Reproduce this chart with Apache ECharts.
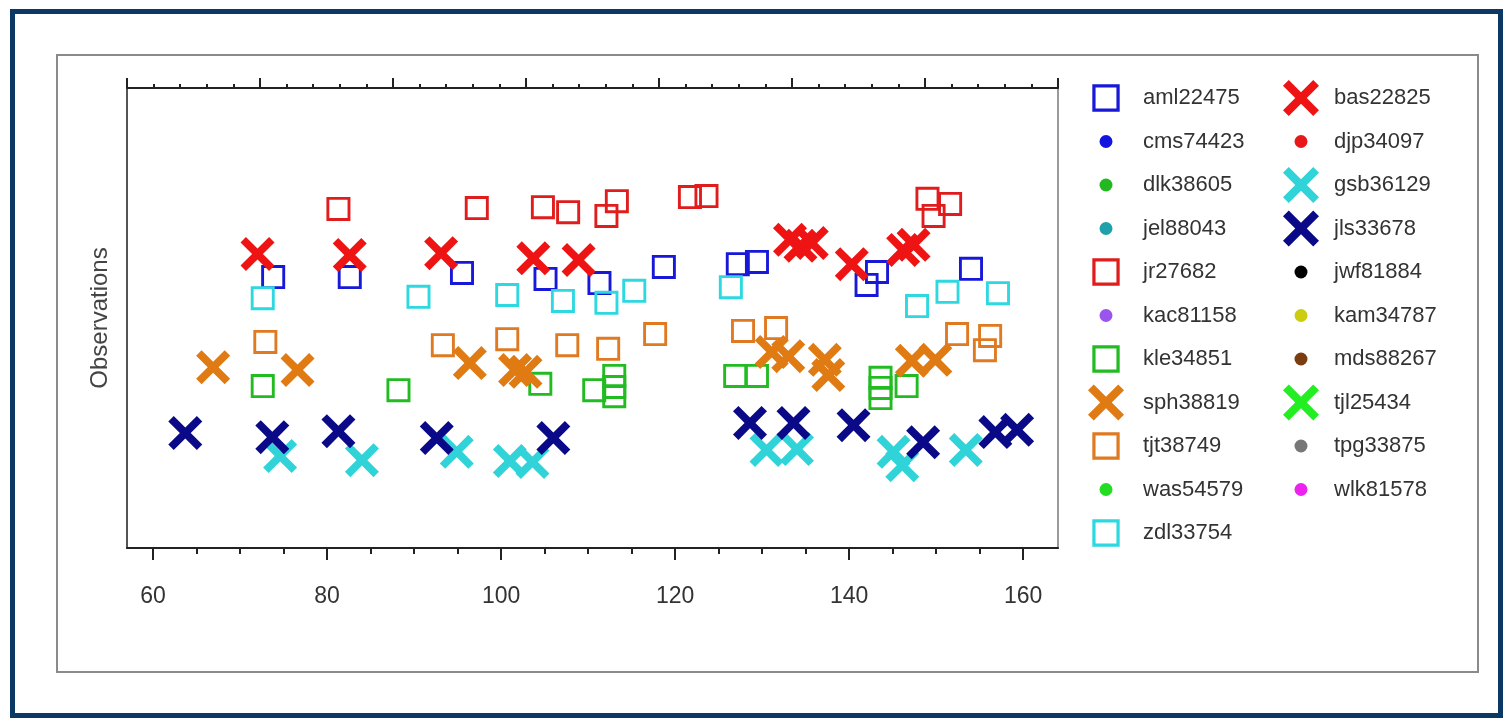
<!DOCTYPE html>
<html>
<head>
<meta charset="utf-8">
<title>Observations</title>
<script src="https://cdn.jsdelivr.net/npm/echarts@6/dist/echarts.min.js"></script>
<style>
  html, body { margin: 0; padding: 0; background: #fff; }
  #chart { width: 1511px; height: 721px; }
</style>
</head>
<body>
<div id="chart"></div>
<script>
// series names, in legend order
var names = ['aml22475', 'bas22825', 'cms74423', 'djp34097', 'dlk38605', 'gsb36129', 'jel88043',
    'jls33678', 'jr27682', 'jwf81884', 'kac81158', 'kam34787', 'kle34851', 'mds88267',
    'sph38819', 'tjl25434', 'tjt38749', 'tpg33875', 'was54579', 'wlk81578', 'zdl33754'];
var kinds = ['square', 'x', 'dot', 'dot', 'dot', 'x', 'dot',
    'x', 'square', 'dot', 'dot', 'dot', 'square', 'dot',
    'x', 'x', 'square', 'dot', 'dot', 'dot', 'square'];
var colors = ['#1818d8', '#ee1414', '#1414e0', '#e81818', '#22b822', '#30d4d8', '#20a0a8',
    '#0a0a88', '#e01c1c', '#000000', '#9955ee', '#cccc11', '#22bb22', '#7a3d10',
    '#e07a12', '#22ee22', '#e07a22', '#777777', '#22dd22', '#ee22ee', '#2ed8e0'];

// x ticks
var xMajor = [60, 80, 100, 120, 140, 160];
var xMinor = [65, 70, 75, 85, 90, 95, 105, 110, 115, 125, 130, 135, 145, 150, 155];

// points [x, observation level]
var aml22475 = [[73.8, 58.9], [82.6, 58.9], [95.5, 59.8], [105.1, 58.5], [111.3, 57.6], [118.7, 61.1],
    [127.2, 61.7], [129.4, 62.2], [142.0, 57.2], [143.2, 60.0], [154.0, 60.7]];
var bas22825 = [[72.0, 63.9], [82.6, 63.7], [93.1, 64.1], [103.7, 63.0], [108.9, 62.6], [133.2, 67.0],
    [134.4, 65.7], [135.7, 66.3], [140.3, 61.7], [146.2, 64.8], [147.4, 65.9]];
var gsb36129 = [[74.6, 20.0], [84.0, 19.1], [94.9, 20.9], [101.0, 18.9], [103.6, 18.7], [130.5, 21.3],
    [134.0, 21.5], [145.1, 20.9], [146.1, 18.0], [153.4, 21.3]];
var jls33678 = [[63.7, 25.0], [73.7, 24.1], [81.3, 25.4], [92.6, 23.9], [106.0, 23.9], [128.6, 27.2],
    [133.6, 27.2], [140.5, 26.7], [148.5, 23.0], [156.8, 25.2], [159.3, 25.7]];
var jr27682 = [[81.3, 73.7], [97.2, 73.9], [104.8, 74.1], [107.7, 73.0], [112.1, 72.2], [113.3, 75.4],
    [121.7, 76.3], [123.6, 76.5], [149.0, 75.9], [149.7, 72.2], [151.6, 74.8]];
var kle34851 = [[72.6, 35.2], [88.2, 34.3], [104.5, 35.7], [110.7, 34.3], [113.0, 37.4], [113.0, 35.0],
    [113.0, 33.0], [126.9, 37.4], [129.4, 37.4], [143.6, 37.0], [143.6, 34.8], [143.6, 32.6], [146.6, 35.2]];
var sph38819 = [[66.9, 39.3], [76.6, 38.7], [96.4, 40.2], [101.6, 38.7], [102.8, 38.3], [131.1, 42.6],
    [133.0, 41.7], [137.2, 40.9], [137.6, 37.6], [147.2, 40.7], [149.9, 40.9]];
var tjt38749 = [[72.9, 44.8], [93.3, 44.1], [100.7, 45.4], [107.6, 44.1], [112.3, 43.3], [117.7, 46.5],
    [127.8, 47.2], [131.6, 47.8], [152.4, 46.5], [156.2, 46.1], [155.6, 43.0]];
var zdl33754 = [[72.6, 54.3], [90.5, 54.6], [100.7, 55.0], [107.1, 53.7], [112.1, 53.3], [115.3, 55.9],
    [126.4, 56.7], [147.8, 52.6], [151.3, 55.7], [157.1, 55.4]];

var seriesData = {
    aml22475: aml22475, bas22825: bas22825, gsb36129: gsb36129, jls33678: jls33678,
    jr27682: jr27682, kle34851: kle34851, sph38819: sph38819, tjt38749: tjt38749, zdl33754: zdl33754
};

// marker shapes
var xPath = 'path://M0,16L16,0L50,34L84,0L100,16L66,50L100,84L84,100L50,66L16,100L0,84L34,50Z';
var squarePath = 'path://M0,0H100V100H0Z M12,12V88H88V12Z';
// legend icons padded inside a 100x100 box
var squareIcon = 'path://M0,0M100,100M12,12H88V88H12Z M21,21V79H79V21Z';
var dotIcon = 'path://M0,0M100,100M32,50A18,18 0 1,1 68,50A18,18 0 1,1 32,50Z';

var font = 'Liberation Sans, Arial, sans-serif';
var chart = echarts.init(document.getElementById('chart'));

var series = names.map(function (n, i) {
    var k = kinds[i];
    return {
        name: n,
        type: 'scatter',
        data: seriesData[n] || [],
        symbol: k === 'x' ? xPath : (k === 'square' ? squarePath : 'circle'),
        symbolSize: k === 'x' ? 34 : (k === 'square' ? 24 : 12),
        itemStyle: { color: colors[i], opacity: 1 },
        emphasis: { disabled: true }
    };
});

function legendCol(parity, left, pad) {
    var items = [];
    names.forEach(function (n, i) {
        if (i % 2 !== parity) return;
        var k = kinds[i];
        items.push({ name: n, icon: k === 'x' ? xPath : (k === 'square' ? squareIcon : dotIcon) });
    });
    return {
        data: items,
        left: left, top: 75,
        orient: 'vertical',
        itemWidth: 36, itemHeight: 36, itemGap: 7.5,
        selectedMode: false,
        textStyle: { fontSize: 22, color: '#333', padding: [0, 0, 0, pad], fontFamily: font }
    };
}

var option = {
    animation: false,
    backgroundColor: '#fff',
    textStyle: { fontFamily: font },
    graphic: [
        { type: 'rect', z: -10, shape: { x: 12.5, y: 11.5, width: 1488, height: 704 },
          style: { fill: 'none', stroke: '#0c3866', lineWidth: 5 } },
        { type: 'rect', z: -10, shape: { x: 57, y: 55, width: 1421, height: 617 },
          style: { fill: 'none', stroke: '#8a8a8a', lineWidth: 2 } }
    ],
    grid: {
        left: 127, top: 88, right: 453, bottom: 173,
        show: true, borderColor: '#9a9a9a', borderWidth: 2, backgroundColor: 'transparent'
    },
    legend: [legendCol(0, 1083, 14), legendCol(1, 1278, 10)],
    xAxis: [
        {
            type: 'value', position: 'bottom', min: 57, max: 164,
            axisLine: { show: true, lineStyle: { color: '#222', width: 2 } },
            axisTick: { show: true, customValues: xMajor, length: 12, lineStyle: { color: '#222', width: 2 } },
            axisLabel: { customValues: xMajor, fontSize: 23, color: '#333', margin: 37, fontFamily: font },
            splitLine: { show: false }
        },
        {
            type: 'value', position: 'bottom', offset: 0, min: 57, max: 164,
            axisLine: { show: false },
            axisTick: { show: true, customValues: xMinor, length: 6, lineStyle: { color: '#222', width: 2 } },
            axisLabel: { show: false },
            splitLine: { show: false }
        },
        {
            type: 'value', position: 'top', min: 0, max: 35, interval: 5,
            axisLine: { show: true, lineStyle: { color: '#222', width: 2 } },
            axisTick: { show: true, length: 10, lineStyle: { color: '#222', width: 2 } },
            minorTick: { show: true, splitNumber: 5, length: 4, lineStyle: { color: '#222', width: 2 } },
            axisLabel: { show: false },
            splitLine: { show: false }
        }
    ],
    yAxis: {
        type: 'value', min: 0, max: 100,
        name: 'Observations', nameLocation: 'middle', nameGap: 15, nameRotate: 90,
        nameTextStyle: { fontSize: 24, color: '#444', fontFamily: font },
        axisLine: { show: true, lineStyle: { color: '#555', width: 2 } },
        axisTick: { show: false },
        axisLabel: { show: false },
        splitLine: { show: false }
    },
    series: series
};

chart.setOption(option);
</script>
</body>
</html>
